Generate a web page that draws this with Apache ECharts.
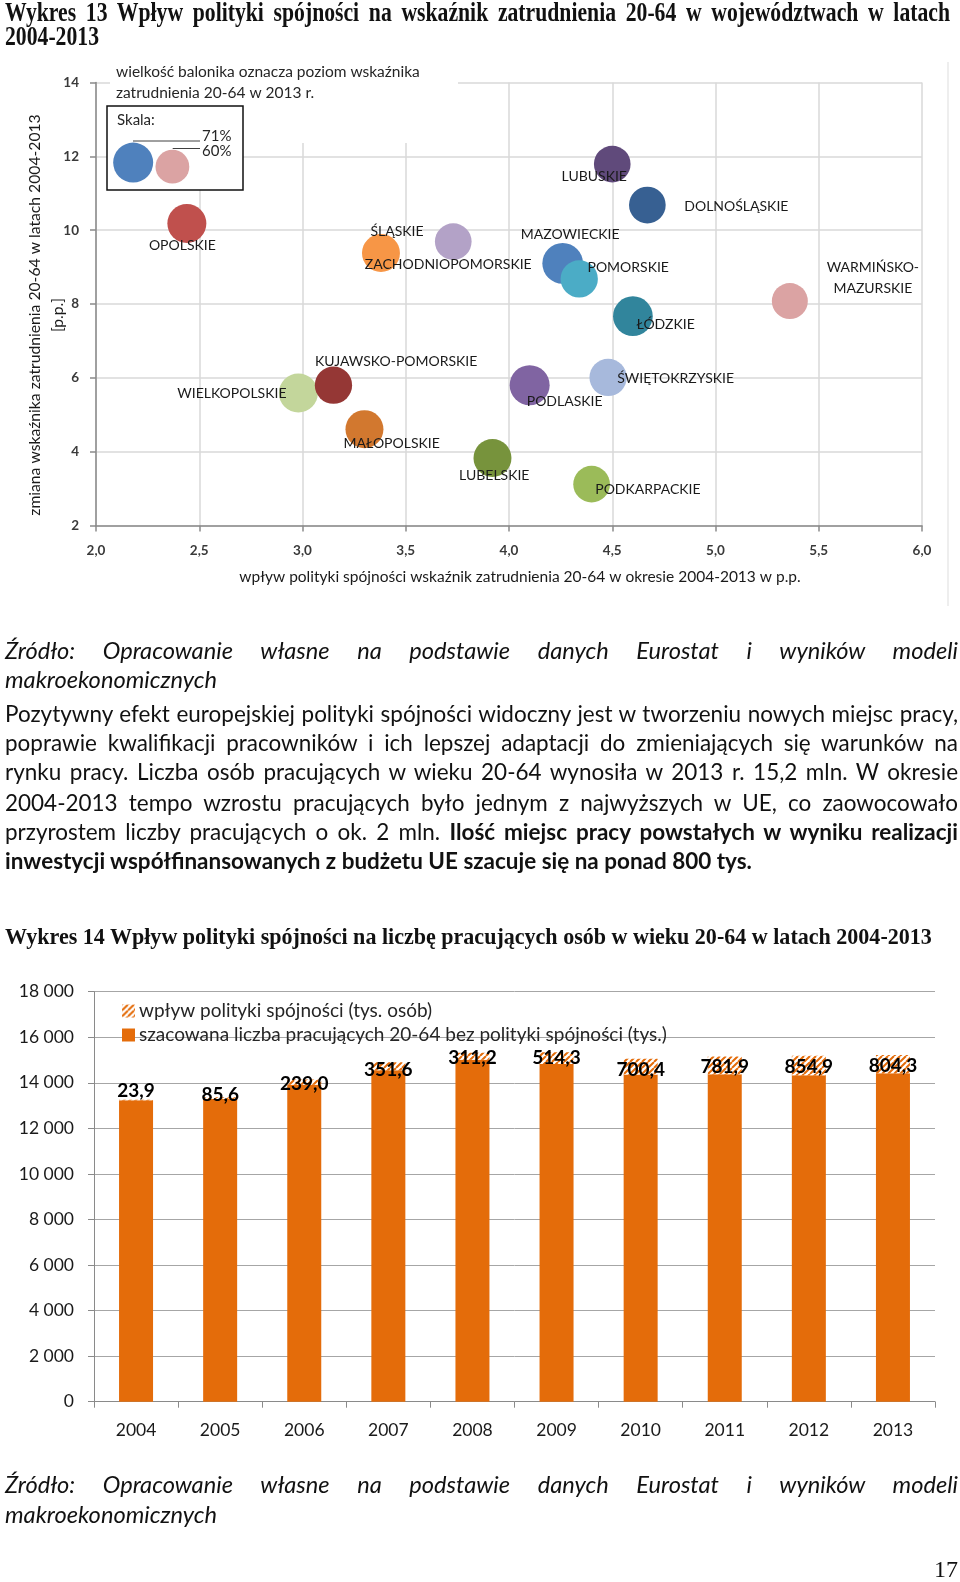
<!DOCTYPE html>
<html><head><meta charset="utf-8">
<script src="https://cdn.jsdelivr.net/npm/echarts@6/dist/echarts.min.js"></script>
<style>
html,body{margin:0;padding:0;background:#fff;}
#page{position:relative;width:960px;height:1582px;overflow:hidden;background:#fff;}
#chart{position:absolute;left:0;top:0;width:960px;height:1582px;}
.t{position:absolute;white-space:nowrap;color:#111;}
</style></head>
<body><div id="page"><div id="chart"></div></div>
<script>
// ===== DATA: Wykres 13 (bubble chart) =====
const regionNames = ['OPOLSKIE','ŚLĄSKIE','ZACHODNIOPOMORSKIE','LUBUSKIE','DOLNOŚLĄSKIE','MAZOWIECKIE','POMORSKIE','WARMIŃSKO-MAZURSKIE','ŁÓDZKIE','WIELKOPOLSKIE','KUJAWSKO-POMORSKIE','MAŁOPOLSKIE','LUBELSKIE','PODLASKIE','ŚWIĘTOKRZYSKIE','PODKARPACKIE'];
const cohesionImpact   = [2.44, 3.38, 3.73, 4.50, 4.67, 4.26, 4.34, 5.36, 4.60, 2.98, 3.15, 3.30, 3.92, 4.10, 4.48, 4.40];
const employmentChange = [10.18, 9.38, 9.69, 11.79, 10.68, 9.10, 8.68, 8.08, 7.67, 5.59, 5.80, 4.61, 3.83, 5.80, 6.01, 3.12];
const employmentRate2013 = [69.2, 67.4, 65.1, 65.1, 65.1, 72.2, 66.2, 63.9, 70.5, 69.2, 66.2, 67.4, 67.4, 71.0, 66.2, 65.1];
const scaleLabels = ['71%', '60%'];
const scaleRates = [71, 60];
const scaleImpact = [2.18, 2.37];
const scaleChange = [11.83, 11.72];

// ===== DATA: Wykres 14 (stacked bars) =====
const years = ['2004','2005','2006','2007','2008','2009','2010','2011','2012','2013'];
const baseEmployment = [13236, 13284, 13911, 14548, 15009, 14826, 14360, 14378, 14335, 14416];
const cohesionJobs = [23.9, 85.6, 239.0, 351.6, 311.2, 514.3, 700.4, 781.9, 854.9, 804.3];

// ===== STYLE =====
const regionColors = ['#c0504d','#f79646','#b3a2c7','#604a7b','#376092','#4f81bd','#4bacc6','#dba3a3','#31859c','#c3d69b','#953735','#d2782f','#77933c','#8064a2','#a7b9dc','#9bbb59'];
const scaleColors = ['#4f81bd','#dba3a3'];
const labelOffsets = [[-4.5,21.6],[16,-22],[-5,23],[-18,12.7],[89,1.4],[7.5,-29.4],[49,-11.6],[83,-23],[32.7,8.3],[-66.5,0.6],[62.7,-23.3],[27.2,14.3],[1.8,17.3],[35,16.7],[67.5,1],[56.3,5.3]];
const barLabelDy = [-9,-3,2,4,2,0,3,2,1,2];
const PX_PER_PCT = 0.5634;

function hatch(){
  const c=document.createElement('canvas'); c.width=6; c.height=6;
  const g=c.getContext('2d'); g.fillStyle='#fff'; g.fillRect(0,0,6,6);
  g.strokeStyle='#e46c0a'; g.lineWidth=2; g.beginPath();
  for(let k=-6;k<=12;k+=6){ g.moveTo(k,6); g.lineTo(k+6,0); }
  g.stroke(); return c;
}
const hatchPattern = {image: hatch(), repeat:'repeat'};

const chart = echarts.init(document.getElementById('chart'), null, {renderer:'canvas'});
const F = 'Lato';
const fmtComma = v => v.toFixed(1).replace('.', ',');
const fmtThousands = v => String(v).replace(/\B(?=(\d{3})+(?!\d))/g, ' ');

const option = {
  animation:false,
  textStyle:{fontFamily:F},
  grid:[
    {left:96, top:82.5, width:826, height:443},
    {left:94, top:991.7, width:841, height:410}
  ],
  xAxis:[
    {type:'value', gridIndex:0, min:2, max:6, interval:0.5,
     axisLine:{show:true, lineStyle:{color:'#8a8a8a', width:1.5}},
     axisTick:{show:true, length:6, lineStyle:{color:'#8a8a8a', width:1.5}},
     splitLine:{show:true, lineStyle:{color:'#d9d9d9', width:1.5}},
     axisLabel:{formatter:fmtComma, color:'#3a3a3a', fontSize:13.5, fontWeight:'bold', margin:18, fontFamily:F}},
    {type:'category', gridIndex:1, data:years,
     axisLine:{show:true, lineStyle:{color:'#8a8a8a', width:1}},
     axisTick:{show:true, length:6, lineStyle:{color:'#8a8a8a'}},
     axisLabel:{color:'#1a1a1a', fontSize:17.5, margin:20, fontFamily:F}}
  ],
  yAxis:[
    {type:'value', gridIndex:0, min:2, max:14, interval:2,
     axisLine:{show:true, lineStyle:{color:'#8a8a8a', width:1.5}},
     axisTick:{show:true, length:6, lineStyle:{color:'#8a8a8a', width:1.5}},
     splitLine:{show:true, lineStyle:{color:'#d9d9d9', width:1.5}},
     axisLabel:{color:'#3a3a3a', fontSize:13.5, fontWeight:'bold', margin:17, fontFamily:F}},
    {type:'value', gridIndex:1, min:0, max:18000, interval:2000,
     axisLine:{show:true, lineStyle:{color:'#8a8a8a', width:1}},
     axisTick:{show:true, length:6, lineStyle:{color:'#8a8a8a'}},
     splitLine:{show:true, lineStyle:{color:'#a6a6a6', width:1}},
     axisLabel:{formatter:fmtThousands, color:'#1a1a1a', fontSize:17.5, margin:20, fontFamily:F}}
  ],
  legend:{
    data:['wpływ polityki spójności (tys. osób)','szacowana liczba pracujących 20-64 bez polityki spójności (tys.)'],
    orient:'vertical', left:117, top:996, itemWidth:13, itemHeight:13, itemGap:4, icon:'rect',
    selectedMode:false,
    textStyle:{fontFamily:F, fontSize:19, color:'#262626', lineHeight:20, padding:[0,0,0,-1]}
  },
  series:[
    {type:'scatter', xAxisIndex:0, yAxisIndex:0, silent:true, z:2,
     symbolSize: v => v[2]*PX_PER_PCT,
     data: regionNames.map((n,i)=>({name:n, value:[cohesionImpact[i], employmentChange[i], employmentRate2013[i]],
        itemStyle:{color:regionColors[i], opacity:1}, label:{offset:labelOffsets[i]}})),
     label:{show:true, position:'inside', align:'center', verticalAlign:'middle',
        formatter: p => p.name.indexOf('WARMI')===0 ? p.name.replace('-', '-\n') : p.name,
        color:'#1a1a1a', fontSize:14, fontFamily:F, lineHeight:21, textBorderWidth:0}},
    {type:'scatter', xAxisIndex:0, yAxisIndex:0, silent:true, z:3,
     symbolSize: v => v[2]*PX_PER_PCT,
     data: scaleRates.map((r,i)=>({name:scaleLabels[i], value:[scaleImpact[i], scaleChange[i], r], itemStyle:{color:scaleColors[i], opacity:1}}))},
    {type:'bar', name:'szacowana liczba pracujących 20-64 bez polityki spójności (tys.)', xAxisIndex:1, yAxisIndex:1,
     stack:'emp', barWidth:34, silent:true, itemStyle:{color:'#e46c0a'}, data: baseEmployment},
    {type:'bar', name:'wpływ polityki spójności (tys. osób)', xAxisIndex:1, yAxisIndex:1,
     stack:'emp', barWidth:34, silent:true, itemStyle:{color:hatchPattern},
     data: cohesionJobs.map((v,i)=>({value:v, label:{offset:[0, barLabelDy[i]]}})),
     label:{show:true, position:'inside', formatter: p => fmtComma(p.value), color:'#000', fontWeight:'bold',
        fontSize:19, fontFamily:F, textBorderWidth:0}}
  ],
  graphic:[
    {type:'line', shape:{x1:948, y1:62, x2:948, y2:606}, style:{stroke:'#e8e8e8', lineWidth:1.5}, z:1},
    {type:'rect', shape:{x:110, y:62, width:348, height:81}, style:{fill:'#fff'}, z:1},
    {type:'rect', shape:{x:107, y:106, width:136, height:84}, style:{fill:'#fff', stroke:'#111', lineWidth:1.5}, z:1},
    {type:'text', x:116, y:71.7, style:{text:'wielkość balonika oznacza poziom wskaźnika', font:'15.5px Lato', fill:'#262626', verticalAlign:'middle'}, z:4},
    {type:'text', x:116, y:93, style:{text:'zatrudnienia 20-64 w 2013 r.', font:'15.5px Lato', fill:'#262626', verticalAlign:'middle'}, z:4},
    {type:'text', x:117, y:120, style:{text:'Skala:', font:'15px Lato', fill:'#262626', verticalAlign:'middle'}, z:4},
    {type:'line', shape:{x1:133, y1:141, x2:200, y2:141}, style:{stroke:'#404040', lineWidth:1}, z:4},
    {type:'line', shape:{x1:172.7, y1:148.5, x2:200, y2:148.5}, style:{stroke:'#404040', lineWidth:1}, z:4},
    {type:'text', x:202, y:136.5, style:{text:scaleLabels[0], font:'15px Lato', fill:'#262626', verticalAlign:'middle'}, z:4},
    {type:'text', x:202, y:151.5, style:{text:scaleLabels[1], font:'15px Lato', fill:'#262626', verticalAlign:'middle'}, z:4},
    {type:'text', x:520, y:577, style:{text:'wpływ polityki spójności wskaźnik zatrudnienia 20-64 w okresie 2004-2013 w p.p.', font:'15.5px Lato', fill:'#1a1a1a', align:'center', verticalAlign:'middle'}, z:4},
    {type:'text', x:35, y:315, rotation:Math.PI/2, style:{text:'zmiana wskaźnika zatrudnienia 20-64 w latach 2004-2013', font:'15.7px Lato', fill:'#1a1a1a', align:'center', verticalAlign:'middle'}, z:4},
    {type:'text', x:58, y:315, rotation:Math.PI/2, style:{text:'[p.p.]', font:'15.7px Lato', fill:'#1a1a1a', align:'center', verticalAlign:'middle'}, z:4}
  ]
};
chart.setOption(option);

// ===== Page text =====
const page = document.getElementById('page');
function measureW(html, font){
  const s=document.createElement('span');
  s.style.cssText='position:absolute;visibility:hidden;white-space:pre;left:0;top:0;';
  s.style.font=font; s.innerHTML=html; document.body.appendChild(s);
  const w=s.getBoundingClientRect().width; s.remove(); return w;
}
function placeLine(o){
  const d=document.createElement('div'); d.className='t';
  d.style.font=o.font; d.style.left=o.x+'px'; d.style.top=(o.yc-o.lh/2)+'px';
  d.style.lineHeight=o.lh+'px'; d.style.height=o.lh+'px'; d.innerHTML=o.html;
  const sx=o.sx||1, sy=o.sy||1;
  if(o.justify){
    const nat=measureW(o.html,o.font)*sx;
    const n=(o.html.replace(/<[^>]+>/g,'').match(/ /g)||[]).length;
    if(n>0) d.style.wordSpacing=((o.width-nat)/sx/n)+'px';
  }
  if(sx!==1||sy!==1){ d.style.transform='scale('+sx+','+sy+')'; d.style.transformOrigin='0 50%'; }
  page.appendChild(d);
}
const serif='"Liberation Serif"';
const t2='Wykres 14 Wpływ polityki spójności na liczbę pracujących osób w wieku 20-64 w latach 2004-2013';
const fT=100*927/measureW(t2,'bold 100px '+serif);
placeLine({html:t2, x:5, yc:937, lh:26, font:'bold '+fT+'px '+serif});
const fT1=fT*1.12;
const sxT1=94/measureW('2004-2013','bold '+fT1+'px '+serif);
placeLine({html:'Wykres 13 Wpływ polityki spójności na wskaźnik zatrudnienia 20-64 w województwach w latach', x:5, yc:12, lh:26, font:'bold '+fT1+'px '+serif, justify:true, width:945, sx:sxT1, sy:1.12});
placeLine({html:'2004-2013', x:5, yc:36, lh:26, font:'bold '+fT1+'px '+serif, sx:sxT1, sy:1.12});

const fS=100*212/measureW('makroekonomicznych','italic 100px Lato');
const srcFont='italic '+fS+'px Lato';
[[650,679],[1484,1514]].forEach(([a,b])=>{
  placeLine({html:'Źródło: Opracowanie własne na podstawie danych Eurostat i wyników modeli', x:5, yc:a, lh:29, font:srcFont, justify:true, width:953});
  placeLine({html:'makroekonomicznych', x:5, yc:b, lh:29, font:srcFont});
});

const lastP='<b>inwestycji współfinansowanych z budżetu UE szacuje się na ponad 800 tys.</b>';
const fP=100*747/measureW(lastP,'100px Lato');
const pFont=fP+'px Lato';
const para=[
 'Pozytywny efekt europejskiej polityki spójności widoczny jest w tworzeniu nowych miejsc pracy,',
 'poprawie kwalifikacji pracowników i ich lepszej adaptacji do zmieniających się warunków na',
 'rynku pracy. Liczba osób pracujących w wieku 20-64 wynosiła w 2013 r. 15,2 mln. W okresie',
 '2004-2013 tempo wzrostu pracujących było jednym z najwyższych w UE, co zaowocowało',
 'przyrostem liczby pracujących o ok. 2 mln. <b>Ilość miejsc pracy powstałych w wyniku realizacji</b>'
];
const pY=[713,742,771.5,802,831];
para.forEach((h,i)=>placeLine({html:h, x:5, yc:pY[i], lh:29, font:pFont, justify:true, width:953}));
placeLine({html:lastP, x:5, yc:860, lh:29, font:pFont});

const pn='17'; const pnFont='24px '+serif;
placeLine({html:pn, x:958-measureW(pn,pnFont), yc:1569, lh:28, font:pnFont});
</script>
</body></html>
